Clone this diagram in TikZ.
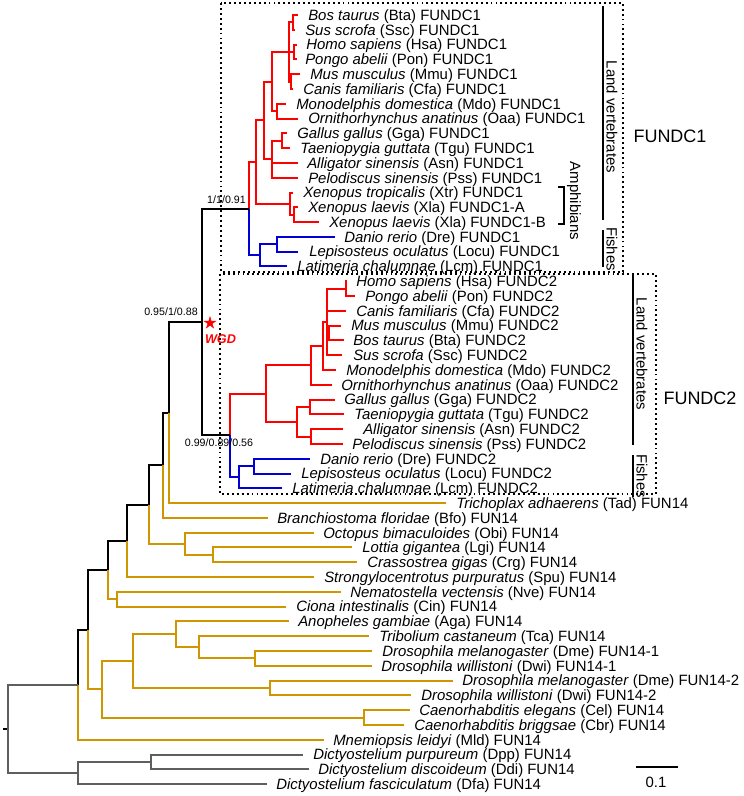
\documentclass[tikz,border=0pt]{standalone}
\usepackage{fontspec}
\setmainfont{Liberation Sans}
\usetikzlibrary{shapes.geometric}
\definecolor{tred}{RGB}{255,0,0}
\definecolor{tblue}{RGB}{0,0,215}
\definecolor{torange}{RGB}{208,150,0}
\definecolor{tgray}{RGB}{95,95,95}
\newcommand\tleaf[6]{\coordinate (#1) at (#3,#2); \node[lbl] (#1-l) at (#4,#2) {\textit{#5} #6};}
\begin{document}
\begin{tikzpicture}[x=0.75pt,y=-0.75pt,
  br/.style={line width=1.5pt},
  lbl/.style={anchor=base west, inner sep=0pt, yshift=-4pt, font=\fontsize{11.2}{13}\selectfont},
  boot/.style={inner sep=0pt, font=\fontsize{8}{9}\selectfont},
  vlbl/.style={inner sep=0pt, rotate=-90, font=\fontsize{11.2}{13}\selectfont},
  big/.style={inner sep=0pt, font=\fontsize{13.5}{15}\selectfont},
  dotbox/.style={line width=1.4pt, dash pattern=on 1.4pt off 2.3pt},
  bracket/.style={line width=1.2pt}]
\fill[white] (0,0) rectangle (743,796);
\useasboundingbox (0,0) rectangle (743,796);

% ---------- leaves ----------
\tleaf{c1bta}{15.0}{298}{308}{Bos taurus}{(Bta) FUNDC1}
\tleaf{c1ssc}{29.8}{295}{305}{Sus scrofa}{(Ssc) FUNDC1}
\tleaf{c1hsa}{44.6}{297}{306}{Homo sapiens}{(Hsa) FUNDC1}
\tleaf{c1pon}{59.4}{297}{305}{Pongo abelii}{(Pon) FUNDC1}
\tleaf{c1mmu}{74.2}{300}{310}{Mus musculus}{(Mmu) FUNDC1}
\tleaf{c1cfa}{89.0}{293}{303}{Canis familiaris}{(Cfa) FUNDC1}
\tleaf{c1mdo}{103.7}{286}{296}{Monodelphis domestica}{(Mdo) FUNDC1}
\tleaf{c1oaa}{118.5}{298}{308}{Ornithorhynchus anatinus}{(Oaa) FUNDC1}
\tleaf{c1gga}{133.3}{287}{297}{Gallus gallus}{(Gga) FUNDC1}
\tleaf{c1tgu}{148.1}{290}{300}{Taeniopygia guttata}{(Tgu) FUNDC1}
\tleaf{c1asn}{162.9}{298}{307}{Alligator sinensis}{(Asn) FUNDC1}
\tleaf{c1pss}{177.7}{298}{308}{Pelodiscus sinensis}{(Pss) FUNDC1}
\tleaf{c1xtr}{192.5}{293}{303}{Xenopus tropicalis}{(Xtr) FUNDC1}
\tleaf{c1xla}{207.3}{298}{308}{Xenopus laevis}{(Xla) FUNDC1-A}
\tleaf{c1xlb}{222.1}{319}{329}{Xenopus laevis}{(Xla) FUNDC1-B}
\tleaf{c1dre}{236.9}{335}{344}{Danio rerio}{(Dre) FUNDC1}
\tleaf{c1loc}{251.6}{298}{309}{Lepisosteus oculatus}{(Locu) FUNDC1}
\tleaf{c1lcm}{266.4}{287}{297}{Latimeria chalumnae}{(Lcm) FUNDC1}
\tleaf{c2hsa}{281.2}{347}{356}{Homo sapiens}{(Hsa) FUNDC2}
\tleaf{c2pon}{296.0}{355}{365}{Pongo abelii}{(Pon) FUNDC2}
\tleaf{c2cfa}{310.8}{346}{356}{Canis familiaris}{(Cfa) FUNDC2}
\tleaf{c2mmu}{325.6}{341}{351}{Mus musculus}{(Mmu) FUNDC2}
\tleaf{c2bta}{340.4}{344}{353}{Bos taurus}{(Bta) FUNDC2}
\tleaf{c2ssc}{355.2}{342}{353}{Sus scrofa}{(Ssc) FUNDC2}
\tleaf{c2mdo}{370.0}{336}{346}{Monodelphis domestica}{(Mdo) FUNDC2}
\tleaf{c2oaa}{384.8}{332}{341}{Ornithorhynchus anatinus}{(Oaa) FUNDC2}
\tleaf{c2gga}{399.5}{335}{344}{Gallus gallus}{(Gga) FUNDC2}
\tleaf{c2tgu}{414.3}{344}{354}{Taeniopygia guttata}{(Tgu) FUNDC2}
\tleaf{c2asn}{429.1}{343}{363}{Alligator sinensis}{(Asn) FUNDC2}
\tleaf{c2pss}{443.9}{343}{352}{Pelodiscus sinensis}{(Pss) FUNDC2}
\tleaf{c2dre}{458.7}{310}{320}{Danio rerio}{(Dre) FUNDC2}
\tleaf{c2loc}{473.5}{291}{301}{Lepisosteus oculatus}{(Locu) FUNDC2}
\tleaf{c2lcm}{488.3}{282}{292}{Latimeria chalumnae}{(Lcm) FUNDC2}
\tleaf{tad}{503.1}{446}{456}{Trichoplax adhaerens}{(Tad) FUN14}
\tleaf{bfo}{517.9}{268}{277}{Branchiostoma floridae}{(Bfo) FUN14}
\tleaf{obi}{532.7}{314}{323}{Octopus bimaculoides}{(Obi) FUN14}
\tleaf{lgi}{547.4}{352}{362}{Lottia gigantea}{(Lgi) FUN14}
\tleaf{crg}{562.2}{357}{367}{Crassostrea gigas}{(Crg) FUN14}
\tleaf{spu}{577.0}{314}{324}{Strongylocentrotus purpuratus}{(Spu) FUN14}
\tleaf{nve}{591.8}{341}{350}{Nematostella vectensis}{(Nve) FUN14}
\tleaf{cin}{606.6}{286}{296}{Ciona intestinalis}{(Cin) FUN14}
\tleaf{aga}{621.4}{289}{298}{Anopheles gambiae}{(Aga) FUN14}
\tleaf{tca}{636.2}{369}{379}{Tribolium castaneum}{(Tca) FUN14}
\tleaf{dmea}{651.0}{372}{382}{Drosophila melanogaster}{(Dme) FUN14-1}
\tleaf{dwia}{665.8}{372}{381}{Drosophila willistoni}{(Dwi) FUN14-1}
\tleaf{dmeb}{680.6}{453}{462}{Drosophila melanogaster}{(Dme) FUN14-2}
\tleaf{dwib}{695.4}{411}{421}{Drosophila willistoni}{(Dwi) FUN14-2}
\tleaf{cel}{710.1}{410}{419}{Caenorhabditis elegans}{(Cel) FUN14}
\tleaf{cbr}{724.9}{404}{414}{Caenorhabditis briggsae}{(Cbr) FUN14}
\tleaf{mld}{739.7}{324}{333}{Mnemiopsis leidyi}{(Mld) FUN14}
\tleaf{dpp}{754.5}{303}{313}{Dictyostelium purpureum}{(Dpp) FUN14}
\tleaf{ddi}{769.3}{309}{318}{Dictyostelium discoideum}{(Ddi) FUN14}
\tleaf{dfa}{784.1}{267}{276}{Dictyostelium fasciculatum}{(Dfa) FUN14}

% ---------- internal nodes ----------
\coordinate (a1) at (293,22.4);
\coordinate (a2) at (294,52.0);
\coordinate (a3) at (291,81.6);
\coordinate (P1) at (289,52.0);
\coordinate (M2) at (277,111.1);
\coordinate (M) at (272,81.6);
\coordinate (B) at (282,140.7);
\coordinate (S) at (272,159.2);
\coordinate (A) at (264,120.4);
\coordinate (Xl) at (294,214.7);
\coordinate (X) at (290,203.6);
\coordinate (T) at (256,162.0);
\coordinate (DL) at (277,244.3);
\coordinate (F) at (260,255.3);
\coordinate (R1) at (249,208.7);
\coordinate (h1) at (346,288.6);
\coordinate (mb) at (329,333.0);
\coordinate (Q) at (327,321.9);
\coordinate (Th) at (323,346.0);
\coordinate (Mm) at (311,365.4);
\coordinate (B2) at (310,406.9);
\coordinate (Rp) at (311,436.5);
\coordinate (Sa) at (297,421.7);
\coordinate (Am) at (266,393.6);
\coordinate (DL2) at (254,466.1);
\coordinate (F2) at (239,477.2);
\coordinate (R2) at (230,435.4);
\coordinate (W) at (202,322.0);
\coordinate (V1) at (169,412.6);
\coordinate (V2) at (163,465.2);
\coordinate (LC) at (213,554.8);
\coordinate (Mo) at (185,543.8);
\coordinate (V3) at (149,504.5);
\coordinate (V4) at (127,540.8);
\coordinate (Cn) at (117,599.2);
\coordinate (V5) at (108,570.0);
\coordinate (D1) at (255,658.4);
\coordinate (TD) at (199,647.3);
\coordinate (AT) at (176,634.4);
\coordinate (D2) at (270,688.0);
\coordinate (I) at (133,661.2);
\coordinate (C) at (364,717.5);
\coordinate (E) at (102,689.4);
\coordinate (V6) at (88,629.7);
\coordinate (V7) at (78,684.7);
\coordinate (DD) at (151,761.9);
\coordinate (DY) at (78,773.0);
\coordinate (root) at (8,728.9);
\coordinate (stub) at (3,728.9);

% ---------- branches ----------
\foreach \p/\c in {a1/c1bta,a1/c1ssc,a2/c1hsa,a2/c1pon,a3/c1mmu,a3/c1cfa,P1/a1,P1/a2,P1/a3,
  M2/c1mdo,M2/c1oaa,M/P1,M/M2,B/c1gga,B/c1tgu,S/B,S/c1asn,S/c1pss,A/M,A/S,
  Xl/c1xla,Xl/c1xlb,X/c1xtr,X/Xl,T/A,T/X,R1/T,
  h1/c2hsa,h1/c2pon,mb/c2mmu,mb/c2bta,Q/h1,Q/c2cfa,Q/mb,Q/c2ssc,Th/Q,Th/c2mdo,
  Mm/Th,Mm/c2oaa,B2/c2gga,B2/c2tgu,Rp/c2asn,Rp/c2pss,Sa/B2,Sa/Rp,Am/Mm,Am/Sa,R2/Am}
  \draw[br,tred] (\p) |- (\c);
\foreach \p/\c in {DL/c1dre,DL/c1loc,F/DL,F/c1lcm,R1/F,DL2/c2dre,DL2/c2loc,F2/DL2,F2/c2lcm,R2/F2}
  \draw[br,tblue] (\p) |- (\c);
\foreach \p/\c in {W/R1,W/R2,V1/W,V2/V1,V3/V2,V4/V3,V5/V4,V6/V5,V7/V6}
  \draw[br,black] (\p) |- (\c);
\draw[br,black] (stub) -- (root);
\foreach \p/\c in {V1/tad,V2/bfo,V3/Mo,Mo/obi,Mo/LC,LC/lgi,LC/crg,V4/spu,V5/Cn,Cn/nve,Cn/cin,
  V6/E,E/I,E/C,I/AT,I/D2,AT/aga,AT/TD,TD/tca,TD/D1,D1/dmea,D1/dwia,D2/dmeb,D2/dwib,C/cel,C/cbr,V7/mld}
  \draw[br,torange] (\p) |- (\c);
\foreach \p/\c in {root/V7,root/DY,DY/DD,DY/dfa,DD/dpp,DD/ddi}
  \draw[br,tgray] (\p) |- (\c);

% ---------- support values ----------
\node[boot] (b1) at (226.5,200) {1/1/0.91};
\node[boot] (b2) at (171,312) {0.95/1/0.88};
\node[boot] (b3) at (219,443) {0.99/0.89/0.56};

% ---------- WGD ----------
\node[star, star points=5, star point ratio=2.8, fill=tred, draw=tred, inner sep=0pt, minimum size=9pt] (wstar) at (210,323) {};
\node[inner sep=0pt, text=tred, font=\fontsize{9.5}{11}\selectfont\bfseries\itshape] (wgd) at (220.5,339) {WGD};

% ---------- boxes and group labels ----------
\draw[dotbox] (221,3) rectangle (623,272);
\draw[dotbox] (220,274) rectangle (656,494);

\draw[bracket] (603,6) -- (603,220);
\draw[bracket] (603,230) -- (603,267);
\draw[bracket] (558,187) -- (564,187) -- (564,224) -- (558,224);
\node[vlbl] (lv1) at (612,117) {Land vertebrates};
\node[vlbl] (fi1) at (612,249) {Fishes};
\node[vlbl] (amp) at (574,201) {Amphibians};
\node[big] (g1) at (670,136) {FUNDC1};

\draw[bracket] (633,275) -- (633,445);
\draw[bracket] (633,455) -- (633,497);
\node[vlbl] (lv2) at (642,354) {Land vertebrates};
\node[vlbl] (fi2) at (642,476) {Fishes};
\node[big] (g2) at (700,398) {FUNDC2};

% ---------- scale bar ----------
\coordinate (sb1) at (636,767);
\coordinate (sb2) at (678,767);
\draw[br,black] (sb1) -- (sb2);
\node[inner sep=0pt, font=\fontsize{11.2}{13}\selectfont] (sbl) at (656,782) {0.1};
\end{tikzpicture}
\end{document}
